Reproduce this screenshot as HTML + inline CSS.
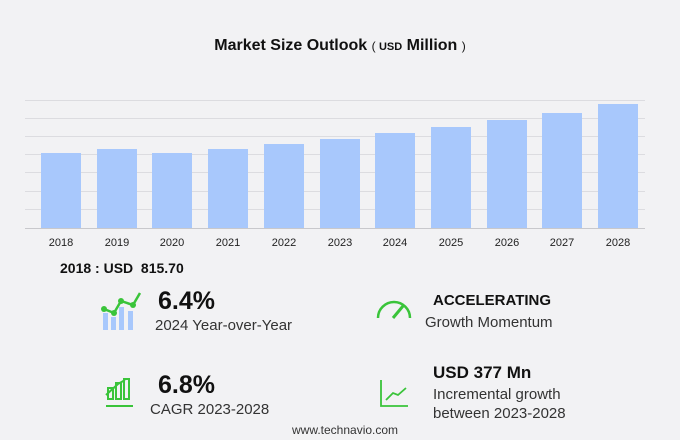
<!DOCTYPE html>
<html><head><style>
body{margin:0;width:680px;height:440px;background:#f2f2f4;font-family:"Liberation Sans",sans-serif;position:relative;overflow:hidden}
.t{position:absolute;white-space:nowrap;color:#111}
</style></head><body>
<svg width="680" height="440" style="position:absolute;left:0;top:0">
<text x="340" y="50" text-anchor="middle" font-family="Liberation Sans" font-weight="bold" font-size="16" fill="#111">Market Size Outlook <tspan font-size="12" font-weight="normal">( </tspan><tspan font-size="11">USD</tspan> Million <tspan font-size="12" font-weight="normal">)</tspan></text>
<g stroke="#dcdce0" stroke-width="1">
<line x1="25" x2="645" y1="100.5" y2="100.5"/><line x1="25" x2="645" y1="118.5" y2="118.5"/>
<line x1="25" x2="645" y1="136.5" y2="136.5"/><line x1="25" x2="645" y1="154.5" y2="154.5"/>
<line x1="25" x2="645" y1="172.5" y2="172.5"/><line x1="25" x2="645" y1="191.5" y2="191.5"/>
<line x1="25" x2="645" y1="209.5" y2="209.5"/>
</g>
<g fill="#a8c8fc">
<rect x="41" y="153" width="40" height="75"/><rect x="97" y="149" width="40" height="79"/>
<rect x="152" y="153" width="40" height="75"/><rect x="208" y="149" width="40" height="79"/>
<rect x="264" y="144" width="40" height="84"/><rect x="320" y="139" width="40" height="89"/>
<rect x="375" y="133" width="40" height="95"/><rect x="431" y="127" width="40" height="101"/>
<rect x="487" y="120" width="40" height="108"/><rect x="542" y="113" width="40" height="115"/>
<rect x="598" y="104" width="40" height="124"/>
</g>
<line x1="25" x2="645" y1="228.5" y2="228.5" stroke="#c8c8cc"/>
<g font-size="11" fill="#222" text-anchor="middle" font-family="Liberation Sans">
<text x="61" y="246">2018</text><text x="117" y="246">2019</text><text x="172" y="246">2020</text><text x="228" y="246">2021</text><text x="284" y="246">2022</text><text x="340" y="246">2023</text><text x="395" y="246">2024</text><text x="451" y="246">2025</text><text x="507" y="246">2026</text><text x="562" y="246">2027</text><text x="618" y="246">2028</text>
</g>
<g fill="#a8c8fc"><rect x="103" y="313" width="5" height="17"/><rect x="111" y="317" width="5" height="13"/><rect x="119" y="307" width="5" height="23"/><rect x="128" y="311" width="5" height="19"/></g>
<polyline points="104,309 114,313 121,301 133,305 140,293" fill="none" stroke="#3ac43a" stroke-width="2.5"/>
<g fill="#3ac43a"><circle cx="104" cy="309" r="3"/><circle cx="114" cy="313" r="3"/><circle cx="121" cy="301" r="3"/><circle cx="133" cy="305" r="3"/></g>
<path d="M378 318 A15 15 0 0 1 410 318" fill="none" stroke="#3ac43a" stroke-width="2.5"/>
<line x1="393" y1="318" x2="403" y2="306" stroke="#3ac43a" stroke-width="3"/>
<g fill="none" stroke="#3ac43a" stroke-width="2"><rect x="108" y="388" width="5" height="11"/><rect x="116" y="383" width="5" height="16"/><rect x="124" y="379" width="5" height="20"/><line x1="106" y1="406" x2="133" y2="406"/><polyline points="106,395 118,384 125,380"/></g>
<g fill="none" stroke="#3ac43a" stroke-width="1.8"><polyline points="381,380 381,406 408,406"/><polyline points="386,400 393,393 398,395 406,388"/></g>
</svg>
<div class="t" style="left:60px;top:260px;font-size:14px;font-weight:bold">2018 : USD&nbsp; 815.70</div>
<div class="t" style="left:158px;top:287px;font-size:25px;font-weight:bold">6.4%</div>
<div class="t" style="left:155px;top:317px;font-size:15px;color:#333">2024 Year-over-Year</div>
<div class="t" style="left:433px;top:292px;font-size:15px;font-weight:bold">ACCELERATING</div>
<div class="t" style="left:425px;top:314px;font-size:15px;color:#333">Growth Momentum</div>
<div class="t" style="left:158px;top:371px;font-size:25px;font-weight:bold">6.8%</div>
<div class="t" style="left:150px;top:401px;font-size:15px;color:#333">CAGR 2023-2028</div>
<div class="t" style="left:433px;top:363px;font-size:17px;font-weight:bold">USD 377 Mn</div>
<div class="t" style="left:433px;top:386px;font-size:15px;color:#333">Incremental growth</div>
<div class="t" style="left:433px;top:405px;font-size:15px;color:#333">between 2023-2028</div>
<div class="t" style="left:292px;top:423px;font-size:12px;color:#333">www.technavio.com</div>
</body></html>
